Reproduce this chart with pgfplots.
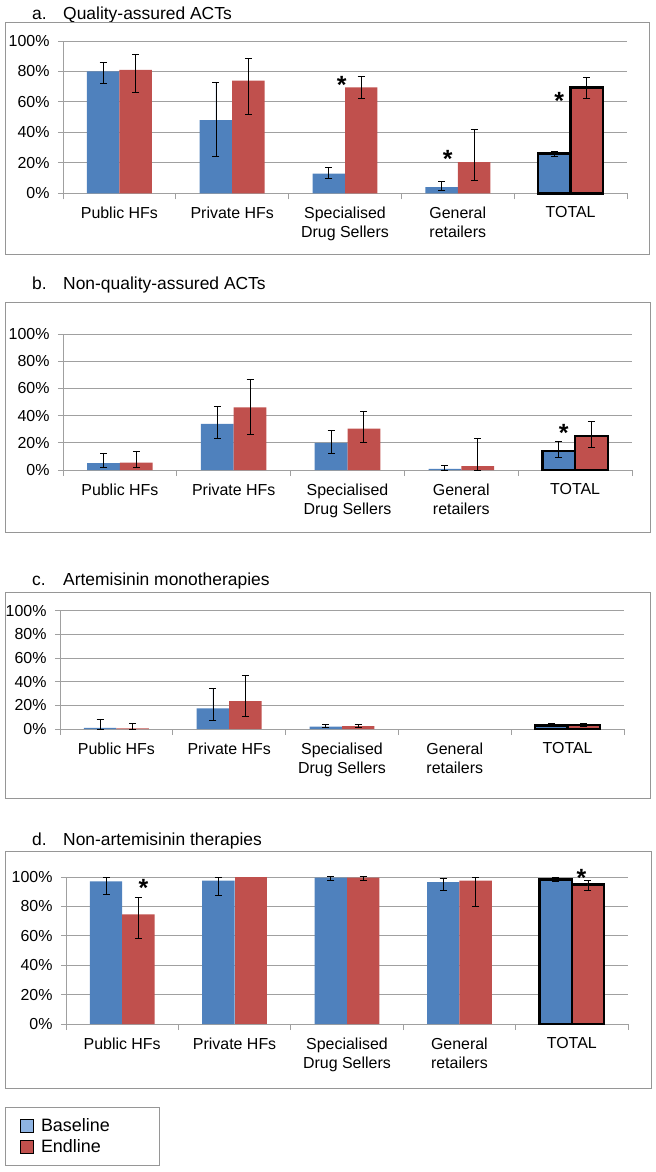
\documentclass[border=0pt]{standalone}
\usepackage{fontspec}
\setmainfont{Liberation Sans}
\usepackage{pgfplots}
\pgfplotsset{compat=1.18}

\definecolor{cblue}{RGB}{79,129,189}
\definecolor{cred}{RGB}{192,80,77}
\definecolor{lblue}{RGB}{142,180,227}
\definecolor{gridgray}{RGB}{160,160,160}
\definecolor{boxgray}{RGB}{150,150,150}

\pgfplotsset{
  panel/.style={
    scale only axis, clip=false,
    xmin=-0.5, xmax=4.5, ymin=0, ymax=100,
    axis x line*=bottom, axis y line*=left,
    axis line style={draw=gridgray, line width=1bp},
    ymajorgrids, grid style={draw=gridgray, line width=1bp},
    ytick={0,20,...,100},
    yticklabels={0\%,20\%,40\%,60\%,80\%,100\%},
    xtick={0,...,4},
    xticklabels={Public HFs,Private HFs,Specialised\\Drug Sellers,General\\retailers,TOTAL},
    minor xtick={-0.5,0.5,...,4.5},
    tick align=outside,
    major tick length=5bp, minor tick length=6bp,
    major x tick style={draw=none},
    minor x tick style={draw=gridgray, line width=1bp},
    ytick style={draw=gridgray, line width=1bp},
    tick label style={font=\fontsize{16}{19}\selectfont, text=black},
    xticklabel style={align=center, yshift=-5bp},
    yticklabel style={xshift=-5bp},
    ybar, bar width=0.288,
    error bars/y dir=both, error bars/y explicit,
    error bars/error bar style={line width=0.9bp, draw=black},
    error bars/error mark options={rotate=90, line width=0.9bp, draw=black, mark size=3.5bp},
  },
  base/.style={fill=cblue, draw=none, bar shift=-0.144, forget plot},
  endl/.style={fill=cred, draw=none, bar shift=0.144, forget plot},
  tot/.style={draw=black, line width=2.6bp},
}
\newcommand{\sig}[2]{\node[anchor=base, inner sep=0pt, font=\fontsize{25}{25}\selectfont\bfseries, yshift=-14.5bp] at (axis cs:#1,#2) {*};}
\newcommand{\ptitle}[3]{%
  \node[anchor=base west, inner sep=0pt, font=\fontsize{17.5}{18}\selectfont] at (32bp,#1) {#2};
  \node[anchor=base west, inner sep=0pt, font=\fontsize{17.5}{18}\selectfont] at (63bp,#1) {#3};}

\begin{document}
\begin{tikzpicture}
\path[use as bounding box] (0,0) rectangle (656bp,-1172bp);

% a. Quality-assured ACTs
\ptitle{-19bp}{a.}{Quality-assured ACTs}
\draw[boxgray, line width=1bp] (5bp,-22.7bp) rectangle (649bp,-254bp);
\begin{axis}[panel, at={(63bp,-193.3bp)}, anchor=south west, width=564bp, height=152.3bp]
\addplot[base] coordinates {(0,80) += (0,6) -= (0,8) (1,48) += (0,25) -= (0,24) (2,13) += (0,4) -= (0,3) (3,4) += (0,4) -= (0,2)};
\addplot[endl] coordinates {(0,81) += (0,10) -= (0,15) (1,74) += (0,14.5) -= (0,22) (2,69.5) += (0,7) -= (0,7.5) (3,20.5) += (0,21.5) -= (0,12)};
\addplot[base, tot] coordinates {(4,26) += (0,1.5) -= (0,2)};
\addplot[endl, tot] coordinates {(4,69.5) += (0,6.5) -= (0,7)};
\sig{1.97}{75}
\sig{2.91}{26.7}
\sig{3.9}{64.5}
\end{axis}

% b. Non-quality-assured ACTs
\ptitle{-289.5bp}{b.}{Non-quality-assured ACTs}
\draw[boxgray, line width=1bp] (5bp,-302bp) rectangle (650bp,-532bp);
\begin{axis}[panel, at={(63bp,-470bp)}, anchor=south west, width=569bp, height=136bp]
\addplot[base] coordinates {(0,5) += (0,7) -= (0,3) (1,34) += (0,13) -= (0,10.5) (2,20) += (0,9) -= (0,7.5) (3,0.8) += (0,2.6) -= (0,0.8)};
\addplot[endl] coordinates {(0,5.5) += (0,8.5) -= (0,3.5) (1,46) += (0,20.5) -= (0,19.5) (2,30.5) += (0,12.5) -= (0,10.5) (3,2.8) += (0,20.7) -= (0,2.8)};
\addplot[base, tot] coordinates {(4,14) += (0,7) -= (0,4.5)};
\addplot[endl, tot] coordinates {(4,25) += (0,11) -= (0,8.5)};
\sig{3.9}{31.5}
\end{axis}

% c. Artemisinin monotherapies
\ptitle{-585bp}{c.}{Artemisinin monotherapies}
\draw[boxgray, line width=1bp] (5bp,-592bp) rectangle (650bp,-798bp);
\begin{axis}[panel, at={(60bp,-729bp)}, anchor=south west, width=564bp, height=118.3bp]
\addplot[base] coordinates {(0,1) += (0,7.5) -= (0,1) (1,17.5) += (0,17) -= (0,10) (2,2) += (0,1.7) -= (0,1)};
\addplot[endl] coordinates {(0,0.5) += (0,4.5) -= (0,0.5) (1,23.5) += (0,21.5) -= (0,13) (2,2.5) += (0,1.5) -= (0,1.3)};
\addplot[base, tot] coordinates {(4,3) += (0,2) -= (0,1)};
\addplot[endl, tot] coordinates {(4,3.5) += (0,1.5) -= (0,1)};
\end{axis}

% d. Non-artemisinin therapies
\ptitle{-845bp}{d.}{Non-artemisinin therapies}
\draw[boxgray, line width=1bp] (5bp,-851bp) rectangle (651bp,-1088bp);
\begin{axis}[panel, at={(66bp,-1024bp)}, anchor=south west, width=562bp, height=147bp,
  legend image code/.code={\fill[#1] (0bp,-6.5bp) rectangle (13.5bp,6.5bp);},
  legend style={at={(axis description cs:-0.1085,-0.5646)}, anchor=north west,
    draw=boxgray, line width=1bp, font=\fontsize{18}{18}\selectfont,
    inner xsep=14bp, inner ysep=9bp, row sep=3bp, column sep=5bp},
  legend cell align=left]
\addplot[base] coordinates {(0,97) += (0,2.5) -= (0,9) (1,97.5) += (0,2.5) -= (0,10) (2,99.5) += (0,1) -= (0,1.5) (3,96.5) += (0,2.5) -= (0,5.5)};
\addplot[endl] coordinates {(0,74.5) += (0,11.5) -= (0,16) (2,99.5) += (0,1) -= (0,1.5) (3,97.5) += (0,2.5) -= (0,17.5)};
\addplot[endl, error bars/y dir=none] coordinates {(1,100)};
\addplot[base, tot] coordinates {(4,98.5) += (0,1) -= (0,1.5)};
\addplot[endl, tot] coordinates {(4,95) += (0,2.5) -= (0,4)};
\sig{0.19}{96.8}
\sig{4.085}{103.6}
\addlegendimage{fill=lblue}
\addlegendentry{Baseline\hspace*{34bp}}
\addlegendimage{fill=cred}
\addlegendentry{Endline}
\end{axis}
\end{tikzpicture}
\end{document}
